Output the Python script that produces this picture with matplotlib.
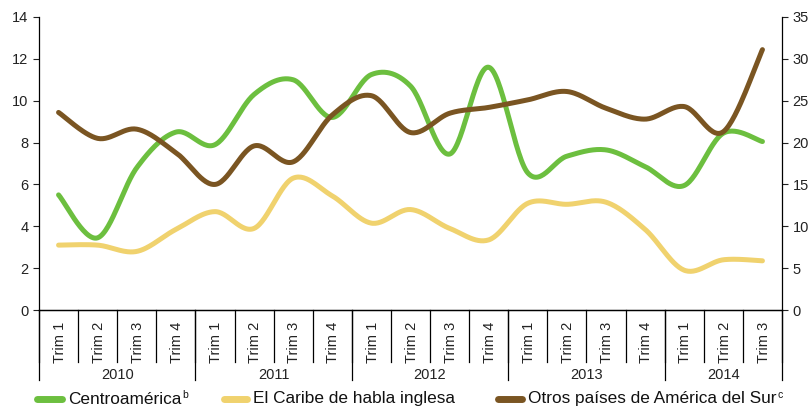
import numpy as np
import matplotlib
matplotlib.use('Agg')
import matplotlib.pyplot as plt
from matplotlib.lines import Line2D

plt.rcParams['font.family'] = ['Liberation Sans', 'DejaVu Sans']

# Trimestres 2010 T1 - 2014 T3
years = ['2010', '2011', '2012', '2013', '2014']
quarters_per_year = [4, 4, 4, 4, 3]
quarter_labels = ['Trim 1', 'Trim 2', 'Trim 3', 'Trim 4'] * 4 + ['Trim 1', 'Trim 2', 'Trim 3']

# Eje izquierdo
centroamerica = [5.5, 3.45, 6.8, 8.5, 7.9, 10.3, 11.0, 9.2, 11.25, 10.7,
                 7.45, 11.6, 6.55, 7.35, 7.65, 6.85, 5.95, 8.45, 8.05]
caribe = [3.1, 3.1, 2.8, 3.85, 4.7, 3.9, 6.3, 5.45, 4.15, 4.8,
          3.9, 3.35, 5.1, 5.05, 5.15, 3.85, 1.9, 2.4, 2.35]
# Eje derecho
otros_sur = [23.6, 20.5, 21.6, 18.8, 15.0, 19.6, 17.7, 23.3, 25.6, 21.2,
             23.5, 24.2, 25.1, 26.1, 24.1, 22.8, 24.3, 21.3, 31.1]

green = '#6cbf3f'
yellow = '#f0d26e'
brown = '#7a5522'


def suavizar(y, n=30):
    # curva Catmull-Rom entre puntos consecutivos (linea suavizada)
    y = np.asarray(y, dtype=float)
    x = np.arange(len(y), dtype=float)
    px = np.concatenate([[x[0]], x, [x[-1]]])
    py = np.concatenate([[y[0]], y, [y[-1]]])
    xs, ys = [], []
    t = np.linspace(0, 1, n, endpoint=False)
    for i in range(1, len(px) - 2):
        for arr, out in ((px, xs), (py, ys)):
            p0, p1, p2, p3 = arr[i - 1], arr[i], arr[i + 1], arr[i + 2]
            out.append(0.5 * (2 * p1 + (-p0 + p2) * t
                              + (2 * p0 - 5 * p1 + 4 * p2 - p3) * t ** 2
                              + (-p0 + 3 * p1 - 3 * p2 + p3) * t ** 3))
    xs.append([x[-1]])
    ys.append([y[-1]])
    return np.concatenate(xs), np.concatenate(ys)


fig = plt.figure(figsize=(8.08, 4.07), dpi=100)
ax = fig.add_axes([39 / 808, 97 / 407, 743 / 808, 293 / 407])
ax2 = ax.twinx()

n = len(centroamerica)
lw = 3.6
for serie, color, eje in ((caribe, yellow, ax), (centroamerica, green, ax), (otros_sur, brown, ax2)):
    xs, ys = suavizar(serie)
    eje.plot(xs, ys, color=color, lw=lw, solid_capstyle='round', zorder=3)

ax.set_xlim(-0.5, n - 0.5)
ax.set_ylim(0, 14)
ax.set_yticks(range(0, 15, 2))
ax2.set_ylim(0, 35)
ax2.set_yticks(range(0, 36, 5))

for a in (ax, ax2):
    a.spines['top'].set_visible(False)
    a.tick_params(axis='y', direction='out', length=4, width=0.8, labelsize=10.5, colors='#222222')
    for s in a.spines.values():
        s.set_linewidth(0.9)
ax2.spines['left'].set_visible(False)
ax.spines['right'].set_visible(False)

ax.set_xticks([])
ax.tick_params(axis='x', length=0)

# eje de categorias en dos niveles
tr = ax.get_xaxis_transform()
y_tick_end = -52 / 293
y_year_end = -70 / 293
for b in np.arange(n + 1) - 0.5:
    ax.plot([b, b], [0, y_tick_end], transform=tr, color='black', lw=0.9, clip_on=False)
for i, lab in enumerate(quarter_labels):
    ax.text(i + 0.03, -32 / 293, lab, transform=tr, rotation=90, ha='center', va='center',
            fontsize=10.5, color='#222222')
pos = -0.5
for year, k in zip(years, quarters_per_year):
    ax.plot([pos, pos], [0, y_year_end], transform=tr, color='black', lw=0.9, clip_on=False)
    ax.text(pos + k / 2, -65 / 293, year, transform=tr, ha='center', va='center',
            fontsize=10.5, color='#222222')
    pos += k
ax.plot([pos, pos], [0, y_year_end], transform=tr, color='black', lw=0.9, clip_on=False)

# leyenda
y_leg = 1 - 399 / 407
entradas = [(37, 62, green, 'Centroamérica', 'b'),
            (224, 247, yellow, 'El Caribe de habla inglesa', ''),
            (498, 522, brown, 'Otros países de América del Sur', 'c')]
for x0, x1, color, texto, sup in entradas:
    fig.add_artist(Line2D([x0 / 808, x1 / 808], [y_leg, y_leg], color=color, lw=5,
                          solid_capstyle='round', transform=fig.transFigure))
    t = fig.text((x1 + 6) / 808, y_leg, texto, ha='left', va='center', fontsize=12.4, color='#111111')
    if sup:
        fig.canvas.draw()
        bb = t.get_window_extent()
        fig.text((bb.x1 + 1) / 808, y_leg + 4 / 407, sup, ha='left', va='center',
                 fontsize=7.5, color='#111111')

fig.savefig('out.png', dpi=100)
